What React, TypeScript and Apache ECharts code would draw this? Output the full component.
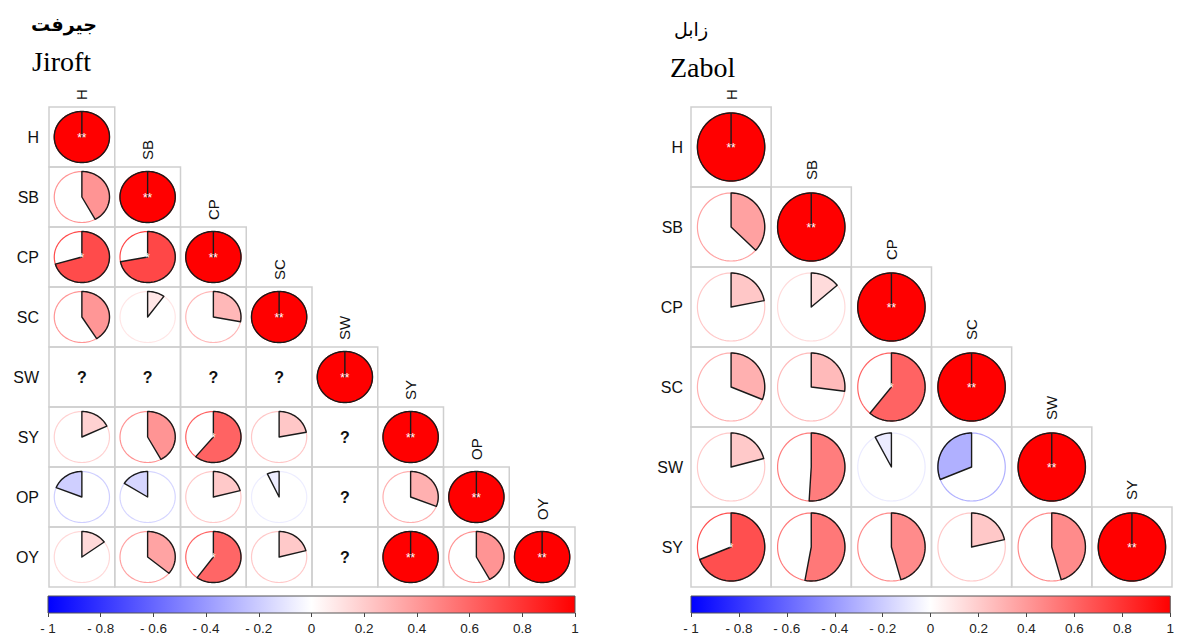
import React, { useEffect, useRef } from "react";
import * as echarts from "echarts";

// ---------- data ----------
const jiroftVars = ["H", "SB", "CP", "SC", "SW", "SY", "OP", "OY"];
const jiroftCorr: (number | null)[][] = [
  [1],
  [0.42, 1],
  [0.705, 0.72, 1],
  [0.41, 0.1, 0.28, 1],
  [null, null, null, null, 1],
  [0.18, 0.42, 0.61, 0.22, null, 1],
  [-0.19, -0.16, 0.21, -0.07, null, 0.31, 1],
  [0.15, 0.36, 0.6, 0.21, null, 1, 0.42, 1],
];
const jiroftSig: string[][] = [
  ["**"],
  ["", "**"],
  ["*", "*", "**"],
  ["", "", "", "**"],
  ["", "", "", "", "**"],
  ["", "", "*", "", "", "**"],
  ["", "", "", "", "", "", "**"],
  ["", "", "*", "", "", "**", "", "**"],
];

const zabolVars = ["H", "SB", "CP", "SC", "SW", "SY"];
const zabolCorr: (number | null)[][] = [
  [1],
  [0.37, 1],
  [0.22, 0.14, 1],
  [0.31, 0.27, 0.61, 1],
  [0.21, 0.51, -0.08, -0.31, 1],
  [0.69, 0.53, 0.455, 0.215, 0.455, 1],
];
const zabolSig: string[][] = [
  ["**"],
  ["", "**"],
  ["", "", "**"],
  ["", "", "*", "**"],
  ["", "", "", "", "**"],
  ["*", "", "", "", "", "**"],
];

const colorbarTicks = [-1, -0.8, -0.6, -0.4, -0.2, 0, 0.2, 0.4, 0.6, 0.8, 1];

const titleJiroftFa = "جیرفت";
const titleJiroftEn = "Jiroft";
const titleZabolFa = "زابل";
const titleZabolEn = "Zabol";

// ---------- helpers ----------
const SANS = '"Liberation Sans", Arial, Helvetica, sans-serif';
const SERIF = '"Liberation Serif", "Times New Roman", "DejaVu Sans", serif';

function corrColor(r: number): string {
  const t = Math.min(1, Math.abs(r));
  const v = Math.round(255 * (1 - t));
  return r >= 0 ? `rgb(255,${v},${v})` : `rgb(${v},${v},255)`;
}

type Item = { col: number; row: number; r: number | null; sig: string };

function buildItems(corr: (number | null)[][], sig: string[][]): Item[] {
  const out: Item[] = [];
  corr.forEach((row, i) => {
    row.forEach((r, j) => {
      out.push({ col: j, row: i, r, sig: sig[i][j] });
    });
  });
  return out;
}

function makeRender(items: Item[], vars: string[]) {
  return (params: any, api: any) => {
    const it = items[params.dataIndex];
    const c = api.coord([it.col, it.row]);
    const sz = api.size([1, 1]);
    const w = sz[0];
    const h = sz[1];
    const children: any[] = [];
    children.push({
      type: "rect",
      shape: { x: c[0] - w / 2, y: c[1] - h / 2, width: w, height: h },
      style: { fill: "none", stroke: "#cfcfcf", lineWidth: 1.5 },
    });
    if (it.r === null) {
      children.push({
        type: "text",
        x: c[0],
        y: c[1],
        style: {
          text: "?",
          fontSize: 16,
          fontWeight: "bold",
          fontFamily: SANS,
          fill: "#111",
          align: "center",
          verticalAlign: "middle",
        },
      });
    } else {
      const r = it.r;
      const rx = w * 0.42;
      const ry = h * 0.425;
      const col = corrColor(r);
      const ring: number[][] = [];
      for (let k = 0; k <= 120; k++) {
        const a = (k / 120) * 2 * Math.PI;
        ring.push([c[0] + rx * Math.cos(a), c[1] + ry * Math.sin(a)]);
      }
      children.push({
        type: "polyline",
        shape: { points: ring },
        style: { fill: "none", stroke: col, lineWidth: 1.2 },
      });
      const n = Math.max(2, Math.ceil(Math.abs(r) * 120));
      const pts: number[][] = [[c[0], c[1]]];
      const sweep = (r >= 0 ? 1 : -1) * 2 * Math.PI * Math.abs(r);
      for (let k = 0; k <= n; k++) {
        const a = -Math.PI / 2 + (sweep * k) / n;
        pts.push([c[0] + rx * Math.cos(a), c[1] + ry * Math.sin(a)]);
      }
      children.push({
        type: "polygon",
        shape: { points: pts },
        style: { fill: col, stroke: "#1a1a1a", lineWidth: 1.4, lineJoin: "round" },
      });
      if (it.sig) {
        children.push({
          type: "text",
          x: c[0],
          y: c[1] + 1,
          style: {
            text: it.sig,
            fontSize: 12,
            fontFamily: SANS,
            fill: "#ffffff",
            align: "center",
            verticalAlign: "middle",
          },
        });
      }
    }
    if (it.col === it.row) {
      children.push({
        type: "text",
        x: c[0],
        y: c[1] - h / 2 - 7,
        rotation: Math.PI / 2,
        style: {
          text: vars[it.col],
          fontSize: 15,
          fontFamily: SANS,
          fill: "#111",
          align: "left",
          verticalAlign: "middle",
        },
      });
    }
    return { type: "group", children };
  };
}

function renderColorbar(params: any, api: any) {
  const p0 = api.coord([colorbarTicks[0], 0]);
  const p1 = api.coord([colorbarTicks[colorbarTicks.length - 1], 1]);
  return {
    type: "rect",
    shape: { x: p0[0], y: p1[1], width: p1[0] - p0[0], height: p0[1] - p1[1] },
    style: {
      fill: {
        type: "linear",
        x: 0,
        y: 0,
        x2: 1,
        y2: 0,
        colorStops: [
          { offset: 0, color: "#0000ff" },
          { offset: 0.5, color: "#ffffff" },
          { offset: 1, color: "#ff0000" },
        ],
      },
      stroke: "#555",
      lineWidth: 1,
    },
  };
}

function tickFmt(v: number): string {
  const n = Math.round(v * 10) / 10;
  return n < 0 ? "- " + String(Math.abs(n)) : String(n);
}

function cbXAxis(gridIndex: number) {
  return {
    type: "value",
    gridIndex,
    min: colorbarTicks[0],
    max: colorbarTicks[colorbarTicks.length - 1],
    interval: 0.2,
    axisLine: { show: false },
    axisTick: { show: true, length: 4, lineStyle: { color: "#444", width: 1 } },
    splitLine: { show: false },
    axisLabel: {
      fontSize: 13.5,
      color: "#222",
      fontFamily: SANS,
      margin: 8,
      showMinLabel: true,
      showMaxLabel: true,
      formatter: tickFmt,
    },
  };
}

export default function App() {
  const ref = useRef<HTMLDivElement>(null);
  useEffect(() => {
    if (!ref.current) return;
    const chart = echarts.init(ref.current, undefined, { renderer: "svg" });
    const jItems = buildItems(jiroftCorr, jiroftSig);
    const zItems = buildItems(zabolCorr, zabolSig);
    const option: any = {
      animation: false,
      backgroundColor: "#ffffff",
      grid: [
        { left: 49, top: 107, width: 526, height: 480 },
        { left: 691, top: 107, width: 481, height: 480 },
        { left: 48, top: 596, width: 527, height: 17 },
        { left: 691, top: 596, width: 481, height: 17 },
      ],
      xAxis: [
        { type: "category", gridIndex: 0, data: jiroftVars, show: false },
        { type: "category", gridIndex: 1, data: zabolVars, show: false },
        cbXAxis(2),
        cbXAxis(3),
      ],
      yAxis: [
        {
          type: "category",
          gridIndex: 0,
          data: jiroftVars,
          inverse: true,
          axisLine: { show: false },
          axisTick: { show: false },
          splitLine: { show: false },
          axisLabel: { fontSize: 16, color: "#111", fontFamily: SANS, margin: 10 },
        },
        {
          type: "category",
          gridIndex: 1,
          data: zabolVars,
          inverse: true,
          axisLine: { show: false },
          axisTick: { show: false },
          splitLine: { show: false },
          axisLabel: { fontSize: 16, color: "#111", fontFamily: SANS, margin: 8 },
        },
        { type: "value", gridIndex: 2, min: 0, max: 1, show: false },
        { type: "value", gridIndex: 3, min: 0, max: 1, show: false },
      ],
      graphic: [
        {
          type: "text",
          x: 64,
          y: 24,
          style: {
            text: titleJiroftFa,
            font: 'bold 19px "DejaVu Sans", serif',
            fill: "#000",
            align: "center",
            verticalAlign: "middle",
          },
        },
        {
          type: "text",
          x: 32,
          y: 61,
          style: {
            text: titleJiroftEn,
            font: "28px " + SERIF,
            fill: "#000",
            align: "left",
            verticalAlign: "middle",
          },
        },
        {
          type: "text",
          x: 691,
          y: 29,
          style: {
            text: titleZabolFa,
            font: '19px "DejaVu Sans", serif',
            fill: "#000",
            align: "center",
            verticalAlign: "middle",
          },
        },
        {
          type: "text",
          x: 670,
          y: 67,
          style: {
            text: titleZabolEn,
            font: "28px " + SERIF,
            fill: "#000",
            align: "left",
            verticalAlign: "middle",
          },
        },
      ],
      series: [
        {
          type: "custom",
          xAxisIndex: 0,
          yAxisIndex: 0,
          coordinateSystem: "cartesian2d",
          data: jItems.map((d) => [d.col, d.row]),
          encode: { x: 0, y: 1 },
          clip: false,
          silent: true,
          renderItem: makeRender(jItems, jiroftVars),
        },
        {
          type: "custom",
          xAxisIndex: 1,
          yAxisIndex: 1,
          coordinateSystem: "cartesian2d",
          data: zItems.map((d) => [d.col, d.row]),
          encode: { x: 0, y: 1 },
          clip: false,
          silent: true,
          renderItem: makeRender(zItems, zabolVars),
        },
        {
          type: "custom",
          xAxisIndex: 2,
          yAxisIndex: 2,
          coordinateSystem: "cartesian2d",
          data: [[colorbarTicks[0], 0]],
          encode: { x: 0, y: 1 },
          clip: false,
          silent: true,
          renderItem: renderColorbar,
        },
        {
          type: "custom",
          xAxisIndex: 3,
          yAxisIndex: 3,
          coordinateSystem: "cartesian2d",
          data: [[colorbarTicks[0], 0]],
          encode: { x: 0, y: 1 },
          clip: false,
          silent: true,
          renderItem: renderColorbar,
        },
      ],
    };
    chart.setOption(option);
    return () => chart.dispose();
  }, []);
  return (
    <div
      ref={ref}
      style={{ position: "fixed", left: 0, top: 0, width: 1177, height: 635, background: "#fff" }}
    />
  );
}
